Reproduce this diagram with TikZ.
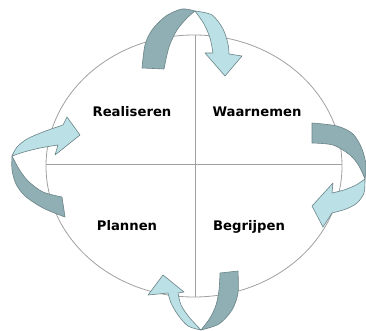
\documentclass[tikz,border=0pt]{standalone}
\usepackage{fontspec}
\setmainfont{DejaVu Sans}
\definecolor{darkband}{HTML}{90AFB4}
\definecolor{lightband}{HTML}{BBE0E6}
\definecolor{bandline}{HTML}{6A8387}
\definecolor{guide}{HTML}{A0A0A0}
\begin{document}
\begin{tikzpicture}[x=1pt,y=-1pt,
  guideline/.style={draw=guide,line width=0.8pt},
  darkpart/.style={fill=darkband,draw=bandline,line width=0.6pt,line join=round},
  lightpart/.style={fill=lightband,draw=bandline,line width=0.6pt,line join=round},
  label/.style={font=\fontsize{13.2}{15}\selectfont\bfseries,anchor=base,inner sep=0pt}]
\useasboundingbox (0,0) rectangle (366,331);
% circle and cross
\draw[guideline] (194,166) ellipse [x radius=148, y radius=131];
\coordinate (L) at (46,164);
\coordinate (R) at (342,164);
\coordinate (T) at (195,35);
\coordinate (B) at (195,297);
\draw[guideline] (L) -- (R);
\draw[guideline] (T) -- (B);
% labels
\node[label] (real) at (132,117) {Realiseren};
\node[label] (waar) at (257,117) {Waarnemen};
\node[label] (plan) at (127,230) {Plannen};
\node[label] (begr) at (249,230) {Begrijpen};
% top arrow
\path[darkpart] plot[smooth] coordinates {(142,68) (145,45) (152,30) (166,16) (182,9) (195,11)}
  -- plot[smooth] coordinates {(195,11) (187,18) (177,30) (169,47) (164,69)} -- cycle;
\path[lightpart] plot[smooth] coordinates {(195,11) (212,15) (223,29) (228,44) (229,54)}
  -- (242,56) -- (225,76) -- (205,53) -- (213,53)
  -- plot[smooth] coordinates {(213,53) (210,38) (204,24) (195,11)} -- cycle;
% right arrow
\path[darkpart] plot[smooth] coordinates {(312,123) (337,126) (353,134) (362,149) (366,165) (365,179)}
  -- plot[smooth] coordinates {(365,179) (359,166) (350,155) (333,145) (312,143)} -- cycle;
\path[lightpart] plot[smooth] coordinates {(365,179) (364,193) (357,203) (346,209) (332,213)}
  -- (323,227) -- (312,206) -- (333,183) -- (332,193)
  -- plot[smooth] coordinates {(332,193) (344,190) (356,185) (365,179)} -- cycle;
% bottom arrow
\path[darkpart] plot[smooth] coordinates {(238,271) (238,293) (232,310) (219,324) (201,330)}
  -- plot[smooth] coordinates {(201,330) (210,318) (216,305) (219,290) (220,273)} -- cycle;
\path[lightpart] plot[smooth] coordinates {(201,330) (188,326) (178,315) (171,303) (168,293)}
  -- (148,295) -- (163,275) -- (184,292) -- (178,293)
  -- plot[smooth] coordinates {(178,293) (181,305) (189,317) (201,330)} -- cycle;
% left arrow
\path[darkpart] plot[smooth] coordinates {(12,156) (12,170) (16,184) (25,196) (43,208) (65,217)}
  -- (62,197)
  -- plot[smooth] coordinates {(62,197) (43,192) (28,181) (19,169) (12,156)} -- cycle;
\path[lightpart] plot[smooth] coordinates {(12,156) (17,147) (27,139) (43,132) (63,125)}
  -- (67,117) -- (80,135) -- (55,155) -- (58,145)
  -- plot[smooth] coordinates {(58,145) (40,148) (24,152) (12,156)} -- cycle;
\end{tikzpicture}
\end{document}
